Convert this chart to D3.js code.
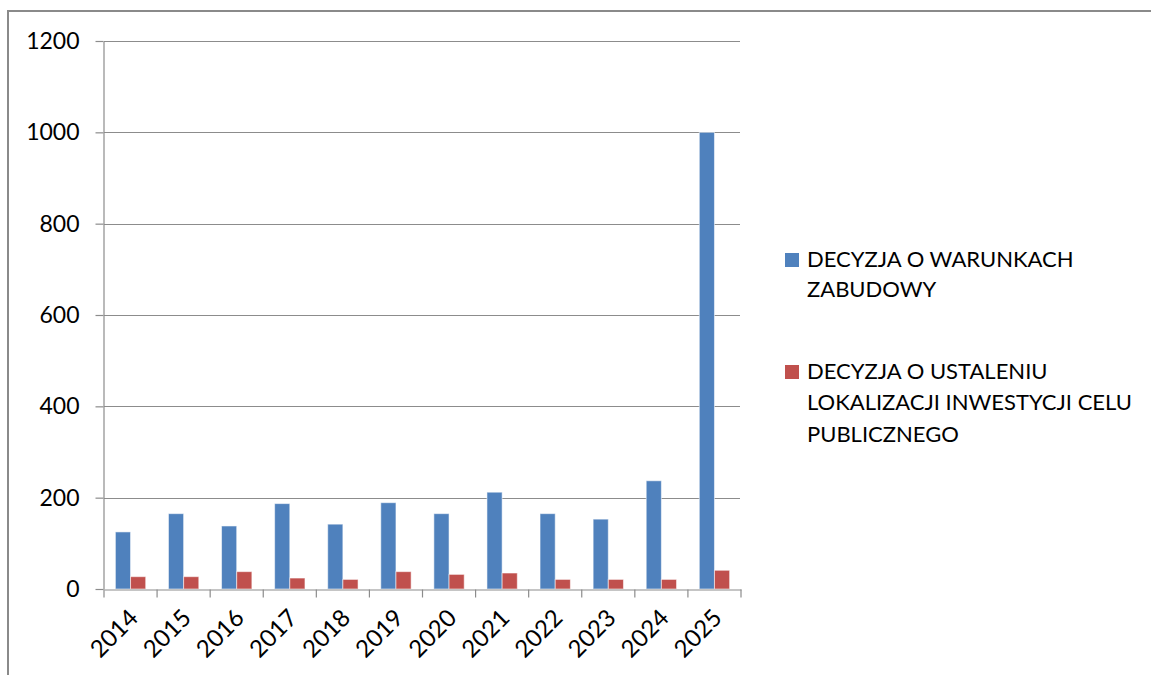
<!DOCTYPE html>
<html><head><meta charset="utf-8">
<script src="https://cdn.jsdelivr.net/npm/d3@7/dist/d3.min.js"></script>
<style>
html,body{margin:0;padding:0;background:#fff;}
svg{display:block;}
text{font-family:Lato,"Open Sans",sans-serif;fill:#000;}
</style></head>
<body>
<svg id="c" width="1151" height="675"></svg>
<script>
const years = ["2014","2015","2016","2017","2018","2019","2020","2021","2022","2023","2024","2025"];
const seriesNames = ["DECYZJA O WARUNKACH ZABUDOWY", "DECYZJA O USTALENIU LOKALIZACJI INWESTYCJI CELU PUBLICZNEGO"];
const legendLines = [["DECYZJA O WARUNKACH","ZABUDOWY"],["DECYZJA O USTALENIU","LOKALIZACJI INWESTYCJI CELU","PUBLICZNEGO"]];
const warunki = [125,165,138,187,142,189,165,212,165,153,237,1000];
const celuPublicznego = [27,27,38,24,21,38,32,35,21,21,21,41];
const yTicks = [0,200,400,600,800,1000,1200];
const colors = ["#4F81BD","#C0504D"];

const svg = d3.select("#c");
const m = {left:104, right:741, top:41, bottom:589};

// outer frame
svg.append("line").attr("x1",8).attr("x2",1151).attr("y1",11).attr("y2",11).attr("stroke","#8a8a8a").attr("stroke-width",2);
svg.append("line").attr("x1",8).attr("x2",8).attr("y1",10).attr("y2",675).attr("stroke","#8a8a8a").attr("stroke-width",2);

const x = d3.scaleBand().domain(years).range([m.left,m.right]).paddingInner(0).paddingOuter(0);
const y = d3.scaleLinear().domain([0,1200]).range([m.bottom,m.top]);
const bw = x.bandwidth()/3.5;
const xs = d3.scaleBand().domain([0,1]).range([0,2*bw]);

// gridlines
svg.append("g").selectAll("line").data(yTicks.filter(d=>d>0)).join("line")
  .attr("x1",m.left).attr("x2",m.right-1).attr("y1",d=>Math.round(y(d))+0.5).attr("y2",d=>Math.round(y(d))+0.5)
  .attr("stroke","#8c8c8c").attr("stroke-width",1.2);

// y axis
const yAxis = d3.axisLeft(y).tickValues(yTicks).tickFormat(d3.format("d")).tickSize(8).tickPadding(16).tickSizeOuter(0);
const gy = svg.append("g").attr("transform",`translate(${m.left-0.5},0)`).call(yAxis);
gy.select(".domain").attr("stroke","#8c8c8c").attr("stroke-width",1.2);
gy.selectAll(".tick line").attr("stroke","#8c8c8c").attr("stroke-width",1.2);
gy.selectAll("text").style("font-size","23px").attr("font-family","Lato");

// bars
const data = [warunki, celuPublicznego];
data.forEach((vals,si)=>{
  svg.append("g").selectAll("rect").data(vals).join("rect")
    .attr("x",(d,i)=>x(years[i]) + (x.bandwidth()-2*bw)/2 + xs(si))
    .attr("width",bw)
    .attr("y",d=>y(d))
    .attr("height",d=>y(0)-y(d))
    .attr("fill",colors[si])
    .attr("stroke","rgba(255,255,255,0.55)").attr("stroke-width",1);
});

// x axis
const xAxis = d3.axisBottom(x).tickSize(0).tickPadding(0);
const gx = svg.append("g").attr("transform",`translate(0,${m.bottom+0.5})`).call(xAxis);
gx.select(".domain").attr("stroke","#8c8c8c").attr("stroke-width",1.2);
// boundary ticks
const bounds = years.map(d=>x(d)).concat([x(years[years.length-1])+x.bandwidth()]);
gx.append("g").selectAll("line").data(bounds).join("line")
  .attr("x1",d=>d).attr("x2",d=>d).attr("y1",0).attr("y2",8).attr("stroke","#8c8c8c").attr("stroke-width",1.2);
gx.selectAll(".tick text")
  .style("font-size","24px")
  .attr("text-anchor","end")
  .attr("dy","0")
  .attr("transform","translate(9,30) rotate(-45)");

// legend
const lg = svg.append("g");
const legendY = [[267,297],[379,410,442]];
legendLines.forEach((lines,si)=>{
  lg.append("rect").attr("x",785).attr("y",legendY[si][0]-14).attr("width",14).attr("height",14).attr("fill",colors[si]);
  lines.forEach((t,li)=>{
    lg.append("text").attr("x",807).attr("y",legendY[si][li]).text(t).style("font-size","22px");
  });
});
</script>
</body></html>
